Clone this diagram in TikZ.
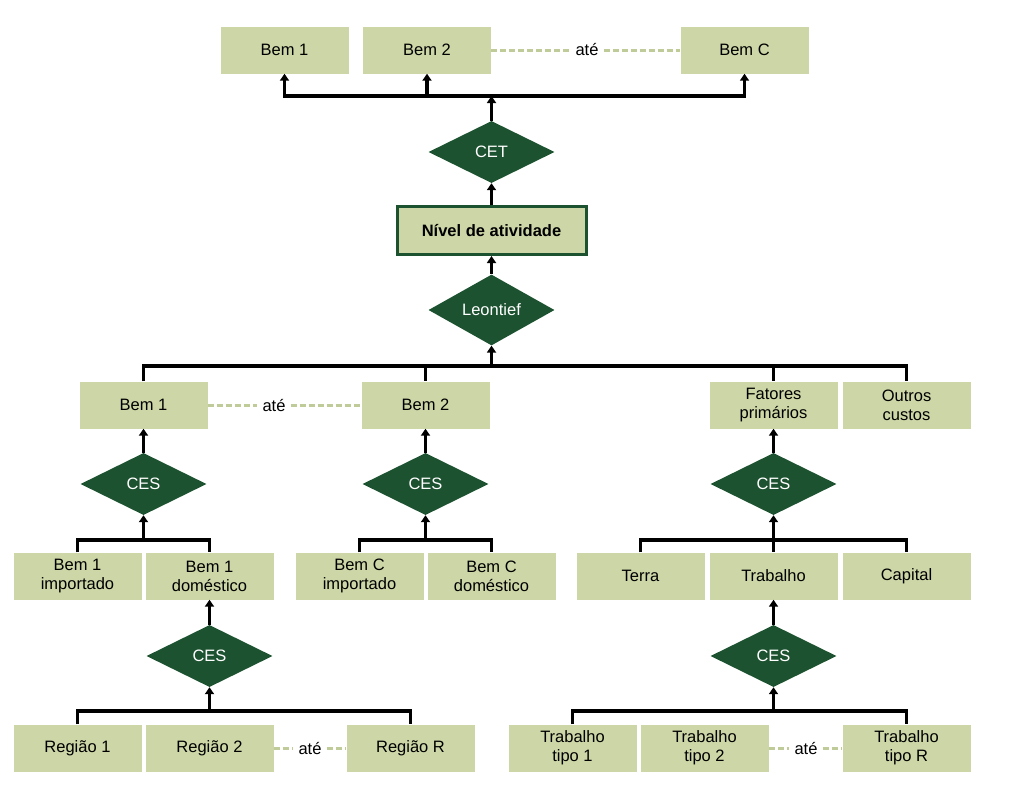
\documentclass[tikz,border=0pt]{standalone}
\usepackage{fontspec}
\setmainfont{Liberation Sans}
\usetikzlibrary{shapes.geometric,arrows.meta}
\definecolor{verdeclaro}{HTML}{CCD6A6}
\definecolor{verdeescuro}{HTML}{1C5230}
\definecolor{tracoclaro}{HTML}{BFCB98}
\newcommand{\cx}[3]{\node[caixa] (#1) at (#2) {#3};}
\newcommand{\ces}[2]{\node[losango] (#1) at (#2) {CES};}
\newcommand{\ate}[4]{\node[rotulo] (#1) at (#2) {até}; \draw[tracejado] (#3) -- (#1) -- (#4);}

\begin{document}
\begin{tikzpicture}[x=1pt,y=-1pt,
    caixa/.style={fill=verdeclaro,minimum width=128pt,minimum height=47pt,inner sep=0pt,align=center,font=\fontsize{16.5}{19}\selectfont},
    nivel/.style={caixa,draw=verdeescuro,line width=3pt,minimum width=189pt,minimum height=48pt,font=\fontsize{16.5}{19}\selectfont\bfseries},
    losango/.style={diamond,fill=verdeescuro,text=white,minimum width=126pt,minimum height=62pt,inner sep=0pt,font=\fontsize{16.5}{19}\selectfont},
    rotulo/.style={inner sep=5pt,font=\fontsize{16.5}{19}\selectfont},
    linha/.style={line width=3.5pt},
    seta/.style={linha,-{Triangle[width=9pt,length=7pt]}},
    tracejado/.style={draw=tracoclaro,line width=3pt,dash pattern=on 6pt off 3pt}]
  \useasboundingbox (0,0) rectangle (1023,788);

  \cx{bemA}{284.5,50}{Bem 1}
  \cx{bemB}{427,50}{Bem 2}
  \cx{bemC}{744.5,50}{Bem C}
  \ate{ateA}{587,50}{bemB}{bemC}
  \node[losango] (cet) at (491.5,152) {CET};
  \node[nivel] (nivel) at (491.5,230.5) {Nível de atividade};
  \node[losango] (leontief) at (491.5,310) {Leontief};
  \coordinate (b0) at (491.5,96);
  \coordinate (b1) at (491.5,366);
  \coordinate (b2) at (0,540);
  \coordinate (b3) at (0,711);
  \draw[linha,line cap=rect] (b0 -| bemA) -- (b0 -| bemC);
  \foreach \n in {bemA,bemB,bemC}
    \draw[seta] (b0 -| \n) -- (\n.south);
  \draw[seta] (cet) -- (b0);
  \draw[seta] (nivel) -- (cet);
  \draw[seta] (leontief) -- (nivel);
  \draw[seta] (b1) -- (leontief);

  \cx{mA}{143.5,405}{Bem 1}
  \cx{mB}{425.5,405}{Bem 2}
  \cx{fat}{773.5,405}{Fatores\\primários}
  \cx{out}{906.5,405}{Outros\\custos}
  \ate{ateB}{274,405}{mA}{mB}
  \draw[linha] (mA.north) |- (b1 -| out) -- (out.north);
  \foreach \n in {mB,fat}
    \draw[linha] (b1 -| \n) -- (\n.north);

  \ces{cesA}{143.5,484}
  \ces{cesB}{425.5,484}
  \ces{cesC}{773.5,484}
  \foreach \c/\n in {cesA/mA,cesB/mB,cesC/fat}{
    \draw[seta] (\c) -- (\n);
    \draw[seta] (b2 -| \c) -- (\c);
  }

  \cx{bi1}{77.5,576}{Bem 1\\importado}
  \cx{bd1}{209.5,576}{Bem 1\\doméstico}
  \cx{bic}{359.5,576}{Bem C\\importado}
  \cx{bdc}{491.5,576}{Bem C\\doméstico}
  \cx{terra}{640.5,576}{Terra}
  \cx{trab}{773.5,576}{Trabalho}
  \cx{capital}{906.5,576}{Capital}
  \foreach \a/\b in {bi1/bd1,bic/bdc,terra/capital}
    \draw[linha] (\a.north) |- (b2 -| \b) -- (\b.north);
  \draw[linha] (b2 -| trab) -- (trab.north);

  \ces{cesD}{209.5,656}
  \ces{cesE}{773.5,656}
  \foreach \c/\n in {cesD/bd1,cesE/trab}{
    \draw[seta] (\c) -- (\n);
    \draw[seta] (b3 -| \c) -- (\c);
  }

  \cx{reg1}{77.5,748}{Região 1}
  \cx{reg2}{209.5,748}{Região 2}
  \cx{regR}{410.5,748}{Região R}
  \cx{tt1}{572.5,748}{Trabalho\\tipo 1}
  \cx{tt2}{704.5,748}{Trabalho\\tipo 2}
  \cx{ttR}{906.5,748}{Trabalho\\tipo R}
  \ate{ateC}{310,748}{reg2}{regR}
  \ate{ateD}{806,748}{tt2}{ttR}
  \foreach \a/\b in {reg1/regR,tt1/ttR}
    \draw[linha] (\a.north) |- (b3 -| \b) -- (\b.north);
\end{tikzpicture}
\end{document}
